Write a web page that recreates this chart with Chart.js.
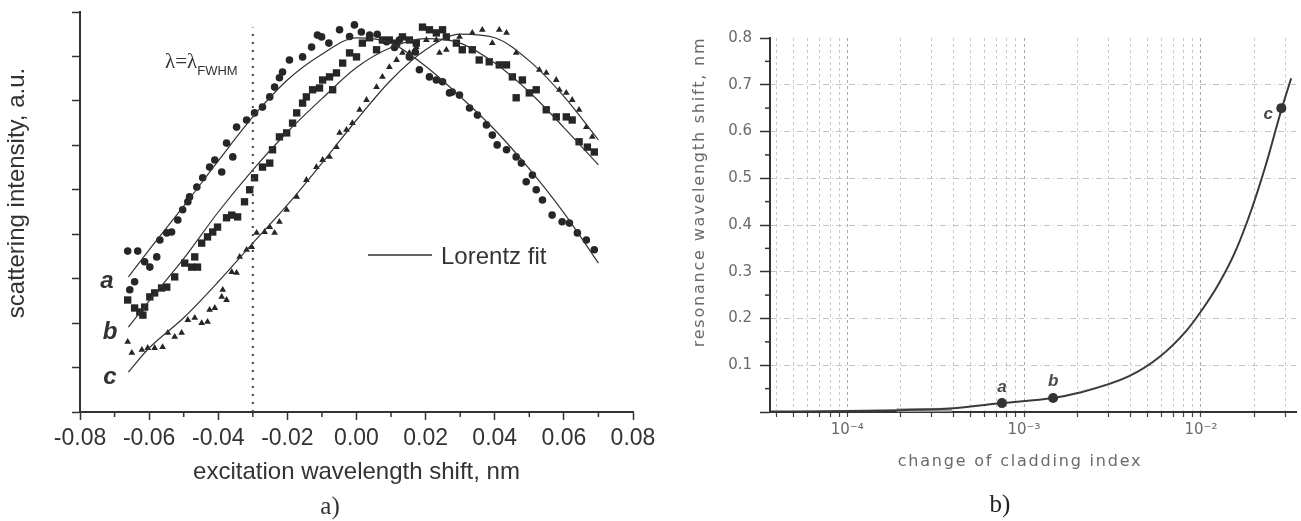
<!DOCTYPE html>
<html><head><meta charset="utf-8">
<script src="https://cdn.jsdelivr.net/npm/chart.js@4.4.1/dist/chart.umd.min.js"></script>
<style>
html,body{margin:0;padding:0;background:#fff;width:1301px;height:521px;overflow:hidden}
#c1{position:absolute;left:0;top:0;width:680px;height:521px}
#c2{position:absolute;left:680px;top:0;width:621px;height:521px}
</style></head><body>
<canvas id="c1" width="680" height="521"></canvas>
<canvas id="c2" width="621" height="521"></canvas>
<script>
// ---------- panel a) data : [excitation wavelength shift (nm), scattering intensity (a.u.)] ----------
const seriesA = [[-0.0662,3.62],[-0.0633,3.62],[-0.0642,2.93],[-0.0656,2.75],[-0.0613,3.38],[-0.0598,3.26],[-0.0578,3.49],[-0.0569,3.87],[-0.0549,4.03],[-0.0535,4.05],[-0.0517,4.32],[-0.0503,4.55],[-0.0488,4.73],[-0.0483,4.84],[-0.0462,5.06],[-0.0445,5.27],[-0.0425,5.51],[-0.0410,5.67],[-0.0390,5.40],[-0.0376,6.05],[-0.0358,5.74],[-0.0347,6.41],[-0.0318,6.57],[-0.0295,6.73],[-0.0272,6.86],[-0.0251,7.09],[-0.0237,7.31],[-0.0223,7.52],[-0.0214,7.65],[-0.0194,7.92],[-0.0156,7.99],[-0.0130,8.21],[-0.0113,8.48],[-0.0101,8.44],[-0.0080,8.30],[-0.0049,8.60],[-0.0020,8.45],[-0.0006,8.71],[0.0014,8.55],[0.0038,8.48],[0.0060,8.50],[0.0087,8.33],[0.0110,8.20],[0.0124,8.37],[0.0153,7.99],[0.0170,8.10],[0.0182,7.70],[0.0211,7.54],[0.0231,7.47],[0.0249,7.43],[0.0269,7.18],[0.0277,7.20],[0.0298,7.13],[0.0327,6.84],[0.0350,6.68],[0.0376,6.46],[0.0393,6.23],[0.0407,6.01],[0.0434,5.90],[0.0462,5.74],[0.0477,5.60],[0.0509,5.33],[0.0491,5.18],[0.0520,5.00],[0.0538,4.77],[0.0566,4.43],[0.0595,4.28],[0.0616,4.25],[0.0639,4.03],[0.0665,3.87],[0.0688,3.65]];
const seriesB = [[-0.0662,2.52],[-0.0642,2.34],[-0.0627,2.25],[-0.0618,2.18],[-0.0613,2.36],[-0.0598,2.59],[-0.0584,2.68],[-0.0564,2.79],[-0.0549,2.81],[-0.0526,3.04],[-0.0497,3.35],[-0.0477,3.26],[-0.0460,3.26],[-0.0468,3.49],[-0.0448,3.80],[-0.0431,3.94],[-0.0416,4.05],[-0.0402,4.16],[-0.0376,4.37],[-0.0361,4.43],[-0.0344,4.39],[-0.0324,4.73],[-0.0309,5.00],[-0.0295,5.27],[-0.0272,5.51],[-0.0251,5.60],[-0.0243,5.90],[-0.0223,6.19],[-0.0202,6.28],[-0.0185,6.50],[-0.0173,6.73],[-0.0156,6.95],[-0.0145,7.09],[-0.0127,7.25],[-0.0107,7.29],[-0.0098,7.47],[-0.0078,7.54],[-0.0058,7.63],[-0.0069,7.25],[-0.0040,7.85],[-0.0020,8.08],[0.0000,7.99],[0.0017,8.30],[0.0038,8.42],[0.0058,8.15],[0.0075,8.37],[0.0095,8.37],[0.0116,8.30],[0.0133,8.44],[0.0153,8.37],[0.0173,8.30],[0.0191,8.66],[0.0211,8.60],[0.0231,8.53],[0.0249,8.60],[0.0260,8.44],[0.0289,8.30],[0.0306,8.15],[0.0335,8.15],[0.0355,7.92],[0.0384,7.88],[0.0413,7.81],[0.0434,7.81],[0.0451,7.54],[0.0480,7.47],[0.0462,7.07],[0.0500,7.18],[0.0520,7.25],[0.0549,6.80],[0.0578,6.64],[0.0607,6.64],[0.0624,6.57],[0.0644,6.08],[0.0668,5.96],[0.0688,5.85]];
const seriesC = [[-0.0662,1.58],[-0.0650,1.33],[-0.0621,1.40],[-0.0604,1.44],[-0.0584,1.44],[-0.0561,1.46],[-0.0546,1.78],[-0.0526,1.69],[-0.0506,1.78],[-0.0488,2.07],[-0.0468,2.12],[-0.0448,2.00],[-0.0431,2.03],[-0.0425,2.30],[-0.0410,2.34],[-0.0390,2.59],[-0.0376,2.52],[-0.0387,2.75],[-0.0361,3.15],[-0.0347,3.13],[-0.0338,3.49],[-0.0318,3.65],[-0.0303,3.71],[-0.0289,4.03],[-0.0266,4.05],[-0.0251,4.16],[-0.0237,4.03],[-0.0223,4.28],[-0.0202,4.55],[-0.0173,4.84],[-0.0145,5.22],[-0.0116,5.51],[-0.0098,5.67],[-0.0078,5.74],[-0.0058,5.96],[-0.0049,6.28],[-0.0029,6.35],[-0.0012,6.50],[0.0009,6.80],[0.0029,7.02],[0.0058,7.31],[0.0075,7.54],[0.0095,7.76],[0.0116,7.92],[0.0133,8.08],[0.0153,8.08],[0.0173,8.21],[0.0202,8.37],[0.0231,8.37],[0.0240,8.08],[0.0260,8.15],[0.0298,8.44],[0.0335,8.53],[0.0364,8.60],[0.0393,8.30],[0.0413,8.60],[0.0434,8.53],[0.0462,8.08],[0.0529,7.70],[0.0549,7.63],[0.0578,7.47],[0.0587,7.25],[0.0607,7.18],[0.0624,7.02],[0.0644,6.80],[0.0665,6.41],[0.0682,6.19]];
// Lorentz fit curves
const fitA = [[-0.066,3.04],[-0.06,3.65],[-0.05,4.63],[-0.04,5.65],[-0.03,6.64],[-0.02,7.47],[-0.01,8.05],[0.0,8.42],[0.01,8.30],[0.02,7.78],[0.03,7.10],[0.04,6.35],[0.05,5.47],[0.06,4.48],[0.07,3.35]];
const fitB = [[-0.066,1.91],[-0.06,2.50],[-0.05,3.45],[-0.04,4.50],[-0.03,5.45],[-0.02,6.30],[-0.01,7.05],[0.0,7.75],[0.01,8.20],[0.02,8.40],[0.03,8.30],[0.04,7.85],[0.05,7.20],[0.06,6.40],[0.07,5.56]];
const fitC = [[-0.066,0.90],[-0.06,1.44],[-0.05,2.12],[-0.04,2.93],[-0.03,3.80],[-0.02,4.66],[-0.01,5.60],[0.0,6.57],[0.01,7.47],[0.02,8.15],[0.03,8.50],[0.04,8.42],[0.05,7.90],[0.06,7.10],[0.07,6.12]];
const fwhmLine = [[-0.03,0],[-0.03,8.65]];
const leftMinorTicks = [-0.07,-0.05,-0.03,-0.01,0.01,0.03,0.05,0.07];

// ---------- panel b) data : [change of cladding index, resonance wavelength shift (nm)] ----------
const curveX = [3.7e-5,1e-4,2e-4,4e-4,7.5e-4,1.46e-3,2.04e-3,3.9e-3,5.8e-3,8.2e-3,1e-2,1.26e-2,1.56e-2,1.92e-2,2.31e-2,2.85e-2,3.24e-2];
const curveY = [0.001,0.002,0.004,0.008,0.019,0.030,0.041,0.076,0.117,0.172,0.215,0.274,0.342,0.430,0.524,0.646,0.714];
const bandX = [1.9e-4,3.9e-4];
const bandY = [0.004,0.005];
const pointNames = ['a','b','c'];
const pointX = [7.5e-4,1.46e-3,2.85e-2];
const pointY = [0.019,0.030,0.650];
const logTicks = [4e-5,5e-5,6e-5,7e-5,8e-5,9e-5,1e-4,2e-4,3e-4,4e-4,5e-4,6e-4,7e-4,8e-4,9e-4,1e-3,2e-3,3e-3,4e-3,5e-3,6e-3,7e-3,8e-3,9e-3,1e-2,2e-2,3e-2];
const logMajors = [1e-4,1e-3,1e-2];
const logMajorLabels = ['10\u207B\u2074','10\u207B\u00B3','10\u207B\u00B2'];
const rightMinorTicks = [0.05,0.15,0.25,0.35,0.45,0.55,0.65,0.75];

const INK = '#262626';
const zip = (xs, ys) => xs.map((v,i)=>[v, ys[i]]);

// ---------- left chart ----------
const leftDecor = {
  id: 'leftDecor',
  afterDraw(chart) {
    const {ctx, scales:{x, y}} = chart;
    ctx.save();
    ctx.strokeStyle = '#333'; ctx.lineWidth = 1.5;
    leftMinorTicks.forEach(v => {
      const px = x.getPixelForValue(v);
      ctx.beginPath(); ctx.moveTo(px, y.bottom); ctx.lineTo(px, y.bottom + 5); ctx.stroke();
    });
    ctx.fillStyle = '#333';
    ctx.textAlign = 'center'; ctx.textBaseline = 'middle';
    ctx.save();
    ctx.font = '24px "Liberation Sans"';
    ctx.translate(17, 193); ctx.rotate(-Math.PI/2);
    ctx.fillText('scattering intensity, a.u.', 0, 0);
    ctx.restore();
    ctx.font = 'italic bold 24px "Liberation Sans"';
    ctx.fillText('a', 107, 281);
    ctx.fillText('b', 110, 332);
    ctx.fillText('c', 110, 377);
    ctx.lineWidth = 1.3; ctx.strokeStyle = '#333';
    ctx.beginPath(); ctx.moveTo(368, 255); ctx.lineTo(432, 255); ctx.stroke();
    ctx.textAlign = 'left';
    ctx.font = '24px "Liberation Sans"';
    ctx.fillText('Lorentz fit', 441, 257);
    ctx.font = '21px "Liberation Serif"';
    ctx.fillText('\u03BB=\u03BB', 165, 62);
    const w = ctx.measureText('\u03BB=\u03BB').width;
    ctx.font = '13px "Liberation Sans"';
    ctx.fillText('FWHM', 165 + w, 71);
    ctx.textAlign = 'center';
    ctx.font = '25px "Liberation Serif"';
    ctx.fillText('a)', 330, 507);
    ctx.restore();
  }
};

const lineDs = (data) => ({data, showLine:true, borderColor:'#333', borderWidth:1.2, pointRadius:0, cubicInterpolationMode:'monotone', fill:false});
const ptDs = (data, style, r) => ({data, showLine:false, pointStyle:style, pointRadius:r, pointBackgroundColor:INK, pointBorderWidth:0, pointBorderColor:INK});

new Chart(document.getElementById('c1'), {
  type: 'scatter',
  data: { datasets: [
    {data: fwhmLine, showLine:true, borderColor:'#444', borderWidth:2, borderDash:[2,6], pointRadius:0},
    lineDs(fitA), lineDs(fitB), lineDs(fitC),
    ptDs(seriesA, 'circle', 3.8),
    ptDs(seriesB, 'rect', 5.2),
    ptDs(seriesC, 'triangle', 3.9)
  ]},
  options: {
    responsive:false, animation:false, events:[],
    layout: {padding:{top:12, right:47, bottom:0, left:0}},
    plugins: {legend:{display:false}, tooltip:{enabled:false}},
    scales: {
      x: {
        type:'linear', min:-0.08, max:0.08,
        ticks: {stepSize:0.02, autoSkip:false, maxRotation:0, padding:5, color:'#333',
          font:{family:'"Liberation Sans"', size:23},
          callback: v => { const r = Math.round(v*100)/100; return (r === 0 ? 0 : r).toFixed(2); }},
        grid: {drawOnChartArea:false, tickLength:8, tickColor:'#333', tickWidth:1.5},
        border: {color:'#333', width:2},
        title: {display:true, text:'excitation wavelength shift, nm', color:'#333',
          font:{family:'"Liberation Sans"', size:24}, padding:{top:0, bottom:34}},
        afterFit: s => { s.height = 109; }
      },
      y: {
        type:'linear', min:0, max:9,
        ticks: {stepSize:1, display:false},
        grid: {drawOnChartArea:false, tickLength:8, tickColor:'#333', tickWidth:1.5},
        border: {color:'#333', width:2},
        afterFit: s => { s.width = 80; }
      }
    }
  },
  plugins: [leftDecor]
});

// ---------- right chart ----------
const rightDecor = {
  id: 'rightDecor',
  afterDraw(chart) {
    const {ctx, scales:{x, y}} = chart;
    ctx.save();
    ctx.strokeStyle = '#333'; ctx.lineWidth = 1.5;
    rightMinorTicks.forEach(v => {
      const py = y.getPixelForValue(v);
      ctx.beginPath(); ctx.moveTo(x.left - 5, py); ctx.lineTo(x.left, py); ctx.stroke();
    });
    ctx.fillStyle = '#6a6a6a';
    ctx.textAlign = 'center'; ctx.textBaseline = 'middle';
    ctx.font = '16px "DejaVu Sans"';
    ctx.letterSpacing = '1.8px';
    ctx.save();
    ctx.translate(20, 192); ctx.rotate(-Math.PI/2);
    ctx.fillText('resonance wavelength shift, nm', 0, 0);
    ctx.restore();
    ctx.fillText('change of cladding index', 340, 462);
    ctx.letterSpacing = '0px';
    ctx.fillStyle = '#4a4a4a';
    ctx.font = 'italic bold 17px "Liberation Sans"';
    const offs = [[0,-16],[0,-17],[-13,6]];
    pointNames.forEach((n,i) => {
      ctx.fillText(n, x.getPixelForValue(pointX[i]) + offs[i][0], y.getPixelForValue(pointY[i]) + offs[i][1]);
    });
    ctx.fillStyle = '#222';
    ctx.font = '25px "Liberation Serif"';
    ctx.fillText('b)', 320, 505);
    ctx.restore();
  }
};

new Chart(document.getElementById('c2'), {
  type: 'scatter',
  data: { datasets: [
    {data: zip(bandX, bandY), showLine:true, borderColor:'#a6a6a6', borderWidth:4, pointRadius:0, order:3},
    {data: zip(curveX, curveY), showLine:true, borderColor:'#3a3a3a', borderWidth:2, pointRadius:0, cubicInterpolationMode:'monotone', order:2},
    {data: zip(pointX, pointY), showLine:false, pointRadius:5, pointBackgroundColor:'#333', pointBorderWidth:0, order:1}
  ]},
  options: {
    responsive:false, animation:false, events:[],
    layout: {padding:{top:38, right:3, bottom:0, left:0}},
    plugins: {legend:{display:false}, tooltip:{enabled:false}},
    scales: {
      x: {
        type:'logarithmic', min:3.66e-5, max:0.0345,
        afterBuildTicks: axis => { axis.ticks = logTicks.map(v => ({value:v})); },
        ticks: {autoSkip:false, maxRotation:0, padding:4, color:'#6a6a6a',
          font:{family:'"DejaVu Sans"', size:15},
          callback: v => { const i = logMajors.indexOf(v); return i >= 0 ? logMajorLabels[i] : ''; }},
        grid: {drawOnChartArea:true, tickLength:5, tickColor:'#444', tickWidth:1.2, lineWidth:1,
          color: c => (c.tick && logMajors.indexOf(c.tick.value) >= 0) ? '#a8a8a8' : '#cbcbcb'},
        border: {color:'#333', width:2, dash:[3,3]},
        afterFit: s => { s.height = 109; }
      },
      y: {
        type:'linear', min:0, max:0.8,
        ticks: {stepSize:0.1, autoSkip:false, padding:8, color:'#6a6a6a',
          font:{family:'"DejaVu Sans"', size:15},
          callback: v => v < 0.001 ? '' : v.toFixed(1)},
        grid: {drawOnChartArea:true, tickLength:10, tickColor:'#333', tickWidth:1.5, lineWidth:1,
          color: c => (c.tick && (c.tick.value < 0.001 || c.tick.value > 0.79)) ? 'rgba(0,0,0,0)' : '#c4c4c4'},
        border: {color:'#333', width:2, dash:[6,3,1,3]},
        afterFit: s => { s.width = 90; }
      }
    }
  },
  plugins: [rightDecor]
});
</script>
</body></html>
